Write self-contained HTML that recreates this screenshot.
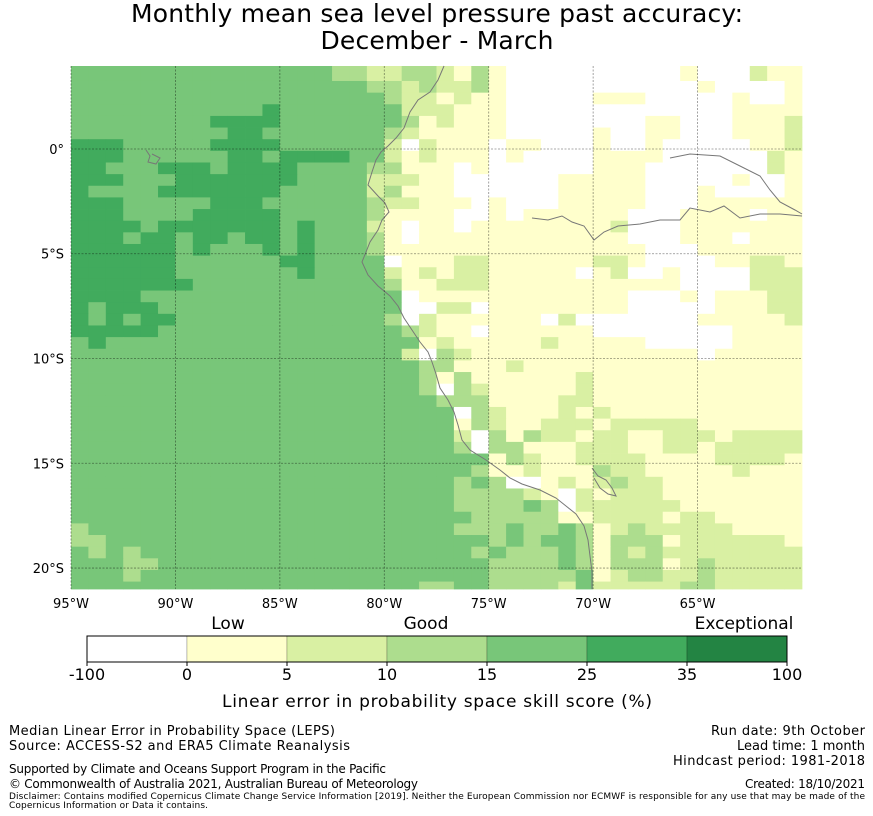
<!DOCTYPE html>
<html><head><meta charset="utf-8"><style>
html,body{margin:0;padding:0;background:#fff;}
svg{display:block;font-family:"DejaVu Sans","Liberation Sans",sans-serif;}
</style></head><body>
<svg id="chart" width="873" height="816" viewBox="0 0 873 816" xmlns="http://www.w3.org/2000/svg">
<text x="437" y="22" text-anchor="middle" font-size="25" textLength="612">Monthly mean sea level pressure past accuracy:</text>
<text x="437" y="49" text-anchor="middle" font-size="25" textLength="233">December - March</text>
<g id="cells"></g>
<g id="coast" fill="none" stroke="#777" stroke-width="1">
<polyline points="444,66 438,80 430,92 418,100 410,112 404,128 396,138 388,146 381,152 376,160 372,172 368,185 378,196 385,203 389,212 382,220 378,230 370,242 366,252 362,262 368,275 378,286 390,296 398,306 404,318 412,330 420,342 428,352 432,362 436,374 440,388 448,400 454,412 458,425 462,440 470,450 486,460 500,470 510,478 522,484 540,490 556,498 566,506 576,514 584,526 588,540 590,556 592,572 592,589"/>
<polyline points="532,218 548,220 562,216 572,222 584,226 594,240 604,232 618,226 640,224 660,220 680,220 690,208 710,212 724,206 740,218 760,214 780,214 802,216"/>
<polyline points="670,158 690,154 720,156 740,166 760,176 770,190 780,202 795,210 802,214"/>
<polyline points="592,468 598,476 606,480 612,488 616,496 608,494 600,488 594,478"/>
<polyline points="146,150 150,156 148,162 156,164 160,158 152,154"/>
</g>
<g id="grid"></g>
<g id="ticks" font-size="13"></g>
<g id="cbar"></g>
<text x="228" y="629" text-anchor="middle" font-size="17">Low</text>
<text x="426" y="629" text-anchor="middle" font-size="17">Good</text>
<text x="744" y="629" text-anchor="middle" font-size="17">Exceptional</text>
<text x="437" y="707" text-anchor="middle" font-size="17" textLength="430">Linear error in probability space skill score (%)</text>
<g font-size="13">
<text x="9" y="735" textLength="326">Median Linear Error in Probability Space (LEPS)</text>
<text x="9" y="750" textLength="341">Source: ACCESS-S2 and ERA5 Climate Reanalysis</text>
<text x="9" y="773" font-size="12" textLength="377">Supported by Climate and Oceans Support Program in the Pacific</text>
<text x="9" y="788" font-size="12" textLength="409">© Commonwealth of Australia 2021, Australian Bureau of Meteorology</text>
<text x="9" y="799" font-size="9" textLength="856">Disclaimer: Contains modified Copernicus Climate Change Service Information [2019]. Neither the European Commission nor ECMWF is responsible for any use that may be made of the</text>
<text x="9" y="808" font-size="9" textLength="199">Copernicus Information or Data it contains.</text>
<text x="865" y="735" text-anchor="end" textLength="154">Run date: 9th October</text>
<text x="865" y="750" text-anchor="end" textLength="128">Lead time: 1 month</text>
<text x="865" y="765" text-anchor="end" textLength="192">Hindcast period: 1981-2018</text>
<text x="865" y="788" text-anchor="end" font-size="12" textLength="120">Created: 18/10/2021</text>
</g>
</svg>
<script>
// ---- data ----
const lonStart = -95, lonStep = 0.8333;
const latTop = 3.96, latFirstEdge = 3.80, latStep = 0.5556;
const binColors = ["#ffffff","#ffffcc","#d9f0a3","#addd8e","#78c679","#41ab5d","#238443"];
const binEdges = ["-100","0","5","10","15","25","35","100"];
const lonTicks = [-95,-90,-85,-80,-75,-70,-65];
const lonTickLabels = ["95°W","90°W","85°W","80°W","75°W","70°W","65°W"];
const latTicks = [0,-5,-10,-15,-20];
const latTickLabels = ["0°","5°S","10°S","15°S","20°S"];
// skill category per grid cell (row = latitude band from north, char = longitude column)
const skillRows = [
"44444444444444"+"43322332131000"+"00000001000211",
"44444444444444"+"43322332131000"+"00000001000211",
"44444444444444"+"44433232231000"+"00000000100001",
"44444444444444"+"44443221211000"+"00111000001001",
"44444444444544"+"44444222111000"+"00000000001111",
"44444444555544"+"44444312111000"+"00000110001112",
"44444444455444"+"44443211111000"+"00100110001112",
"55544444555544"+"44442021110110"+"00100100000112",
"55544444455455"+"55442121110100"+"00111100000021",
"55444555455554"+"44433111010000"+"00111000000021",
"55544455555554"+"44422211000000"+"11111000001001",
"54444555555544"+"44423111000000"+"11111000100001",
"55544444555444"+"44432211101000"+"11111000111111",
"55544445555544"+"44431111001011"+"11110001111011",
"55554555555545"+"44421011011111"+"11120001111111",
"55545545545545"+"44431011111111"+"11110001110111",
"55555545444545"+"44431111111111"+"11111000111111",
"55555544444455"+"44440111221111"+"11221000011221",
"55555544444445"+"44442121221111"+"10120010000222",
"55555554444444"+"44443112221111"+"11111110000222",
"55554444444444"+"44444011111111"+"11110001011122",
"54555444444444"+"44444002201111"+"11110000011122",
"54545544444444"+"44443021111110"+"20000000111112",
"55555444444444"+"44444321101111"+"11000000001111",
"45444444444444"+"44444412111112"+"11111000001111",
"44444444444444"+"44444203211111"+"11111111011111",
"44444444444444"+"44444433111211"+"11111111111111",
"44444444444444"+"44444431311111"+"12111111111111",
"44444444444444"+"44444430321111"+"12111111111111",
"44444444444444"+"44444443331111"+"22111111111111",
"44444444444444"+"44444444032111"+"21211111111111",
"44444444444444"+"44444444132112"+"22122222111111",
"44444444444444"+"44444444203132"+"21221122212222",
"44444444444444"+"44444444303311"+"12221122122222",
"44444444444444"+"44444444441321"+"12222111122221",
"44444444444444"+"44444444431121"+"11322111112111",
"44444444444444"+"44444444343001"+"21232211111111",
"44444444444444"+"44444444333321"+"02122211111111",
"44444444444444"+"44444444333343"+"02222221111111",
"44444444444444"+"44444444433333"+"11222212211111",
"34444444444444"+"44444444333433"+"43123222221111",
"33444444444444"+"44444444443434"+"43133312222221",
"43434444444444"+"44444444434333"+"43132322222222",
"44433444444444"+"44444444443333"+"43133312322222",
"44434444444444"+"44444444443333"+"34123322322222",
"44444444444444"+"44444433443333"+"24222223322222"
];
// ---- axes ----
const X0 = 71, X1 = 802, Y0 = 66, Y1 = 589;
const lonMin = -95, lonMax = -60, latMax = 3.96, latMin = -21.0;
function xOf(lon){ return X0 + (lon - lonMin) / (lonMax - lonMin) * (X1 - X0); }
function yOf(lat){ return Y0 + (latMax - lat) / (latMax - latMin) * (Y1 - Y0); }
const NS = "http://www.w3.org/2000/svg";
function mk(tag, attrs, parent){ const e = document.createElementNS(NS, tag); for (const k in attrs) e.setAttribute(k, attrs[k]); parent.appendChild(e); return e; }

// cells
const cellsG = document.getElementById('cells');
skillRows.forEach((row, r) => {
  const latA = r === 0 ? latTop : latFirstEdge - latStep * (r - 1);
  const latB = latFirstEdge - latStep * r;
  const yA = Math.max(Y0, yOf(latA)), yB = Math.min(Y1, yOf(latB));
  if (yB <= yA) return;
  for (let c = 0; c < row.length; c++) {
    const lonA = lonStart + lonStep * c, lonB = lonStart + lonStep * (c + 1);
    const xA = xOf(lonA), xB = Math.min(X1, xOf(lonB));
    if (xB <= xA) continue;
    const rect = mk('rect', {x: xA.toFixed(2), y: yA.toFixed(2), width: (xB - xA + 0.4).toFixed(2), height: (yB - yA + 0.4).toFixed(2), fill: binColors[+row[c]]}, cellsG);
    
    
  }
});

// grid + ticks
const gridG = document.getElementById('grid');
const ticksG = document.getElementById('ticks');
lonTicks.forEach((lon, i) => {
  const x = xOf(lon);
  const l = mk('line', {x1: x, y1: Y0, x2: x, y2: Y1, stroke: 'rgba(0,0,0,0.45)', 'stroke-width': 0.8, 'stroke-dasharray': '2,1.5'}, gridG);
  
  
  const t = mk('text', {x: x, y: 608, 'text-anchor': 'middle'}, ticksG);
  t.textContent = lonTickLabels[i];
  
  
});
latTicks.forEach((lat, i) => {
  const y = yOf(lat);
  const l = mk('line', {x1: X0, y1: y, x2: X1, y2: y, stroke: 'rgba(0,0,0,0.45)', 'stroke-width': 0.8, 'stroke-dasharray': '2,1.5'}, gridG);
  
  
  const t = mk('text', {x: 64, y: y + 5, 'text-anchor': 'end'}, ticksG);
  t.textContent = latTickLabels[i];
  
  
});

// colorbar
const cb = document.getElementById('cbar');
const CBX = 87, CBW = 700, CBY = 636, CBH = 26, nb = binColors.length;
binColors.forEach((col, i) => {
  const r = mk('rect', {x: CBX + i * CBW / nb, y: CBY, width: CBW / nb, height: CBH, fill: col, stroke: 'rgba(0,0,0,0.25)', 'stroke-width': 0.8}, cb);
  
  
});
const frame = mk('rect', {x: CBX, y: CBY, width: CBW, height: CBH, fill: 'none', stroke: '#000', 'stroke-width': 1}, cb);


binEdges.forEach((lab, i) => {
  const x = CBX + i * CBW / nb;
  const tk = mk('line', {x1: x, y1: CBY + CBH, x2: x, y2: CBY + CBH + 4, stroke: '#000', 'stroke-width': 1}, cb);
  
  
  const t = mk('text', {x: x, y: 680, 'text-anchor': 'middle', 'font-size': 16}, cb);
  t.textContent = lab;
  
  
});
</script>
</body></html>
